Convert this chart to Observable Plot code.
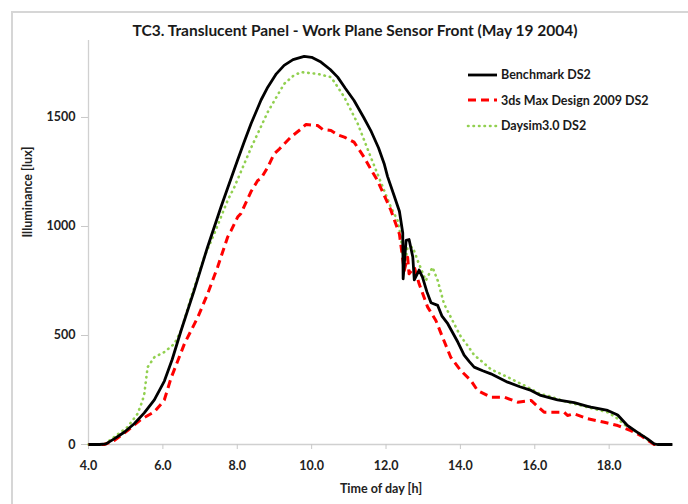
<!DOCTYPE html>
<html>
<head>
<meta charset="utf-8">
<script src="https://cdn.jsdelivr.net/npm/d3@7"></script>
<script src="https://cdn.jsdelivr.net/npm/@observablehq/plot@0.6"></script>
<style>
  html, body { margin: 0; padding: 0; background: #fff; }
  #wrap { position: relative; width: 688px; height: 504px; overflow: hidden; font-family: Lato, "Open Sans", sans-serif; color: #1a1a1a; }
  #border { position: absolute; left: 11px; top: 11px; width: 720px; height: 540px; border: 2px solid #d6d6d6; box-sizing: border-box; }
  #title { position: absolute; left: 0; width: 710px; top: 20px; text-align: center; font-weight: bold; font-size: 15.5px; line-height: 20px; }
  #chart { position: absolute; left: 0; top: 40px; }
  #legend { position: absolute; left: 466px; top: 62px; font-weight: bold; font-size: 12.5px; }
  #legend .row { height: 25.5px; display: flex; align-items: center; white-space: nowrap; }
  #legend svg { margin-right: 3px; }
</style>
</head>
<body>
<div id="wrap">
  <div id="border"></div>
  <div id="chart"></div>
  <div id="title"></div>
  <div id="legend"></div>
</div>
<script>
const titleText = "TC3. Translucent Panel - Work Plane Sensor Front (May 19 2004)";
const xLabel = "Time of day [h]";
const yLabel = "Illuminance [lux]";
const seriesNames = ["Benchmark DS2", "3ds Max Design 2009 DS2", "Daysim3.0 DS2"];
const xTicks = [4, 6, 8, 10, 12, 14, 16, 18];
const yTicks = [0, 500, 1000, 1500];

const benchHours = [4.0, 4.3, 4.47, 4.69, 4.96, 5.23, 5.5, 5.77, 6.04, 6.25, 6.49, 6.84, 7.2, 7.56, 7.74, 8.0, 8.19, 8.37, 8.64, 8.82, 9.05, 9.26, 9.5, 9.8, 10.0, 10.25, 10.5, 10.7, 10.9, 11.14, 11.4, 11.59, 11.8, 11.95, 12.04, 12.2, 12.36, 12.45, 12.46, 12.54, 12.62, 12.72, 12.76, 12.89, 12.98, 13.1, 13.21, 13.39, 13.5, 13.66, 13.93, 14.1, 14.24, 14.37, 14.6, 14.82, 15.27, 15.6, 15.9, 16.16, 16.61, 17.06, 17.42, 17.51, 17.96, 18.23, 18.49, 18.76, 19.03, 19.21, 19.3, 19.7];
const benchValues = [0, 0, 3, 26, 56, 95, 145, 205, 291, 390, 523, 706, 905, 1088, 1175, 1300, 1390, 1471, 1580, 1639, 1700, 1739, 1765, 1780, 1776, 1754, 1720, 1685, 1635, 1578, 1500, 1440, 1360, 1288, 1230, 1150, 1070, 970, 760, 936, 940, 860, 755, 800, 768, 700, 650, 638, 590, 554, 470, 410, 380, 355, 338, 324, 286, 265, 248, 225, 205, 192, 175, 171, 156, 135, 87, 56, 26, 3, 0, 0];

const maxHours = [4.0, 4.42, 4.69, 5.05, 5.41, 5.77, 5.95, 6.04, 6.22, 6.58, 6.94, 7.2, 7.47, 7.74, 7.83, 8.01, 8.1, 8.37, 8.55, 8.64, 8.82, 8.99, 9.13, 9.44, 9.7, 9.85, 10.16, 10.3, 10.52, 10.7, 10.88, 11.14, 11.41, 11.6, 11.77, 12.13, 12.36, 12.49, 12.58, 12.62, 12.76, 12.89, 13.12, 13.34, 13.52, 13.74, 14.01, 14.28, 14.46, 14.82, 15.18, 15.54, 15.9, 16.25, 16.79, 16.88, 17.06, 17.42, 17.87, 18.23, 18.58, 18.85, 19.12, 19.21, 19.7];
const maxValues = [0, 0, 18, 64, 115, 150, 185, 205, 305, 462, 584, 690, 813, 951, 980, 1043, 1060, 1160, 1211, 1220, 1272, 1333, 1355, 1410, 1445, 1468, 1463, 1445, 1440, 1420, 1410, 1387, 1318, 1260, 1211, 1075, 966, 798, 859, 783, 813, 737, 630, 569, 492, 400, 339, 294, 248, 217, 217, 194, 202, 148, 148, 133, 141, 118, 102, 87, 64, 41, 10, 0, 0];

const daysimHours = [4.0, 4.42, 4.69, 5.05, 5.32, 5.45, 5.5, 5.59, 5.77, 6.04, 6.31, 6.49, 6.76, 7.11, 7.38, 7.74, 7.92, 8.37, 8.82, 9.26, 9.5, 9.71, 10.16, 10.52, 10.7, 10.88, 11.24, 11.59, 11.95, 12.13, 12.31, 12.4, 12.49, 12.58, 12.72, 12.85, 13.07, 13.25, 13.39, 13.56, 13.83, 14.01, 14.19, 14.37, 14.55, 14.82, 15.27, 15.81, 16.16, 16.34, 16.88, 17.06, 17.42, 17.96, 18.23, 18.49, 18.85, 19.12, 19.25, 19.7];
const daysimValues = [0, 0, 34, 80, 141, 200, 232, 355, 400, 424, 462, 523, 676, 859, 966, 1119, 1180, 1360, 1525, 1654, 1690, 1708, 1700, 1685, 1640, 1593, 1471, 1318, 1165, 1089, 1028, 951, 813, 905, 905, 844, 752, 813, 752, 645, 554, 495, 455, 410, 385, 345, 309, 263, 230, 225, 194, 187, 171, 148, 118, 80, 49, 10, 0, 0];

const seriesColors = ["#000000", "#ff0000", "#92d050"];

const rows = [];
[[benchHours, benchValues], [maxHours, maxValues], [daysimHours, daysimValues]].forEach(([hs, vs], i) => {
  hs.forEach((h, j) => rows.push({series: seriesNames[i], hour: h, value: vs[j]}));
});

const styles = [
  {strokeWidth: 2.8, dash: null, cap: "butt"},
  {strokeWidth: 3, dash: "8,5", cap: "butt"},
  {strokeWidth: 2.6, dash: "0.5,5", cap: "round"}
];

const font = "Lato, 'Open Sans', sans-serif";
const chart = Plot.plot({
  width: 688,
  height: 464,
  marginLeft: 88,
  marginRight: 15,
  marginTop: 0,
  marginBottom: 60,
  style: {fontFamily: font, background: "transparent", overflow: "visible"},
  x: {domain: [4, 19.73]},
  y: {domain: [0, 1853]},
  marks: [
    Plot.ruleX([4], {stroke: "#d0d0d0", strokeWidth: 1.3}),
    Plot.ruleY([0], {stroke: "#d0d0d0", strokeWidth: 1.3}),
    Plot.axisX({ticks: xTicks, tickFormat: d3.format(".1f"), tickSize: 5, tickPadding: 12, stroke: "#c8c8c8", fill: "#222", fontWeight: "bold", fontSize: 12.5, label: null}),
    Plot.axisY({ticks: yTicks, tickFormat: d => String(d), tickSize: 7, tickPadding: 6, stroke: "#c8c8c8", fill: "#222", fontWeight: "bold", fontSize: 12.5, label: null}),
    ...seriesNames.slice().reverse().map((name) => {
      const i = seriesNames.indexOf(name);
      return Plot.line(rows.filter(d => d.series === name), {
        x: "hour", y: "value",
        stroke: seriesColors[i],
        strokeWidth: styles[i].strokeWidth,
        strokeDasharray: styles[i].dash,
        strokeLinecap: styles[i].cap,
        strokeLinejoin: "round",
        curve: "linear"
      });
    }),
    Plot.text([xLabel], {frameAnchor: "bottom", dy: 48, fontWeight: "bold", fontSize: 12.5, fill: "#222"}),
    Plot.text([yLabel], {frameAnchor: "left", dx: -61, dy: -5, rotate: -90, fontWeight: "bold", fontSize: 12.5, fill: "#222"})
  ]
});
document.getElementById("chart").appendChild(chart);
document.getElementById("title").textContent = titleText;

const legend = document.getElementById("legend");
seriesNames.forEach((name, i) => {
  const row = document.createElement("div");
  row.className = "row";
  const ns = "http://www.w3.org/2000/svg";
  const s = document.createElementNS(ns, "svg");
  s.setAttribute("width", 32); s.setAttribute("height", 10);
  const l = document.createElementNS(ns, "line");
  l.setAttribute("x1", 2); l.setAttribute("x2", 31); l.setAttribute("y1", 5); l.setAttribute("y2", 5);
  l.setAttribute("stroke", seriesColors[i]);
  l.setAttribute("stroke-width", styles[i].strokeWidth);
  if (styles[i].dash) l.setAttribute("stroke-dasharray", styles[i].dash);
  l.setAttribute("stroke-linecap", styles[i].cap);
  s.appendChild(l);
  row.appendChild(s);
  const t = document.createElement("span");
  t.textContent = name;
  row.appendChild(t);
  legend.appendChild(row);
});
</script>
</body>
</html>
